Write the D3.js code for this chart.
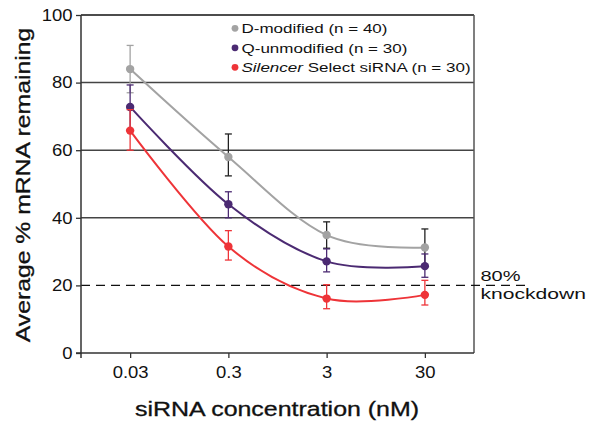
<!DOCTYPE html>
<html><head><meta charset="utf-8">
<script src="https://cdn.jsdelivr.net/npm/d3@7"></script>
<style>body{margin:0;background:#fff}svg{display:block}text{font-family:"Liberation Sans",Arial,sans-serif}</style>
</head><body><svg id="c" width="590" height="422"></svg>
<script>
const concentrations = ["0.03", "0.3", "3", "30"];
const yTicks = [0, 20, 40, 60, 80, 100];
const seriesNames = ["D-modified (n = 40)", "Q-unmodified (n = 30)", "Silencer Select siRNA (n = 30)"];
const dModified = [84, 58, 34.9, 31.2];
const dModifiedLow = [77, 52.4, 31, 25.7];
const dModifiedHigh = [91, 64.8, 38.8, 36.7];
const qUnmodified = [72.8, 44, 27.1, 25.7];
const qUnmodifiedLow = [66, 40, 24, 22.4];
const qUnmodifiedHigh = [79.3, 47.7, 30.8, 29.3];
const silencer = [65.8, 31.5, 16.1, 17.2];
const silencerLow = [60, 27.5, 13.1, 14.2];
const silencerHigh = [72, 36.2, 20.2, 21.5];
const knockdownLevel = 20;

const colors = ["#a3a3a3", "#4b2a72", "#ee3438"];
const errColors = ["#222", "#4b2a72", "#ee3438"];
const series = [
  {name: seriesNames[0], v: dModified, lo: dModifiedLow, hi: dModifiedHigh},
  {name: seriesNames[1], v: qUnmodified, lo: qUnmodifiedLow, hi: qUnmodifiedHigh},
  {name: seriesNames[2], v: silencer, lo: silencerLow, hi: silencerHigh}
];

const svg = d3.select("#c");
const L = 81, R = 474, T = 15, B = 353;
const x = d3.scalePoint().domain(concentrations).range([L, R]).padding(0.5);
const y = d3.scaleLinear().domain([0, 100]).range([B, T]);

// place a horizontally widened text (reference font is wide)
function wideText(parent, px, py, f, rot) {
  return parent.append("text")
    .attr("transform", `translate(${px},${py})${rot ? " rotate(" + rot + ")" : ""} scale(${f},1)`);
}

// grid lines
svg.append("g").selectAll("line").data(yTicks.filter(d => d >= 40)).join("line")
  .attr("x1", L).attr("x2", R).attr("y1", d => y(d)).attr("y2", d => y(d))
  .attr("stroke", d => d === 100 ? "#111" : "#444").attr("stroke-width", 1.5);
// right border
svg.append("line").attr("x1", R).attr("x2", R).attr("y1", T).attr("y2", B)
  .attr("stroke", "#555").attr("stroke-width", 1.5);
// dashed knockdown line
svg.append("line").attr("x1", L).attr("x2", 527).attr("y1", y(knockdownLevel)).attr("y2", y(knockdownLevel))
  .attr("stroke", "#111").attr("stroke-width", 1.3).attr("stroke-dasharray", "9,6");

// axes
const tf = 1.12;
const yAxis = svg.append("g").attr("transform", `translate(${L},0)`)
  .call(d3.axisLeft(y).tickValues(yTicks).tickSize(5).tickPadding(4));
const xAxis = svg.append("g").attr("transform", `translate(0,${B})`)
  .call(d3.axisBottom(x).tickSize(5).tickPadding(8));
[yAxis, xAxis].forEach(g => {
  g.select(".domain").attr("stroke", "#333").attr("stroke-width", 1.5);
  g.selectAll(".tick line").attr("stroke", "#333").attr("stroke-width", 1.3);
  g.selectAll(".tick text").attr("fill", "#111").style("font-size", "16.5px");
});
yAxis.select(".domain").attr("d", `M-5,${B}H0V${T}`);
xAxis.select(".domain").attr("d", `M${L},5V0H${R}`);
yAxis.selectAll(".tick text").attr("x", -8.5 / tf).attr("transform", `scale(${tf},1)`);
xAxis.selectAll(".tick text").attr("dy", null).attr("y", 25.5).attr("transform", `scale(${tf},1)`);

// lines
const line = d3.line().x((d, i) => x(concentrations[i])).y(d => y(d)).curve(d3.curveCatmullRom.alpha(0));
series.forEach((s, k) => {
  svg.append("path").attr("d", line(s.v)).attr("fill", "none")
    .attr("stroke", colors[k]).attr("stroke-width", 2);
});
// error bars and points
series.forEach((s, k) => {
  const g = svg.append("g");
  concentrations.forEach((c, i) => {
    const cx = x(c);
    const ec = (k === 0 && i === 0) ? colors[0] : errColors[k];
    g.append("line").attr("x1", cx).attr("x2", cx).attr("y1", y(s.lo[i])).attr("y2", y(s.hi[i]))
      .attr("stroke", ec).attr("stroke-width", 1.3);
    [s.lo[i], s.hi[i]].forEach(v => g.append("line").attr("x1", cx - 3.5).attr("x2", cx + 3.5)
      .attr("y1", y(v)).attr("y2", y(v)).attr("stroke", ec).attr("stroke-width", 1.3));
  });
  g.selectAll("circle").data(s.v).join("circle")
    .attr("cx", (d, i) => x(concentrations[i])).attr("cy", d => y(d)).attr("r", 4.2).attr("fill", colors[k]);
});

// legend
const lg = svg.append("g");
series.forEach((s, k) => {
  const ly = 28.3 + k * 19.5;
  lg.append("circle").attr("cx", 235).attr("cy", ly).attr("r", 3.4).attr("fill", colors[k]);
  const t = wideText(lg, 241.5, ly + 5, 1.26).style("font-size", "13.5px").attr("fill", "#111");
  if (k === 2) {
    t.append("tspan").attr("font-style", "italic").text("Silencer");
    t.append("tspan").text(" Select siRNA (n = 30)");
  } else t.text(s.name);
});

// knockdown label
const kg = svg.append("g").attr("fill", "#111").style("font-size", "15.5px");
wideText(kg, 480.5, 281, 1.29).text("80%");
wideText(kg, 480.5, 299, 1.36).text("knockdown");

// axis titles
wideText(svg, 29.5, 185, 1.27, -90).attr("text-anchor", "middle")
  .style("font-size", "19.5px").attr("fill", "#111").attr("stroke", "#111").attr("stroke-width", 0.3)
  .text("Average % mRNA remaining");
wideText(svg, 277, 416, 1.28).attr("text-anchor", "middle")
  .style("font-size", "19.5px").attr("fill", "#111").attr("stroke", "#111").attr("stroke-width", 0.3)
  .text("siRNA concentration (nM)");
</script></body></html>
